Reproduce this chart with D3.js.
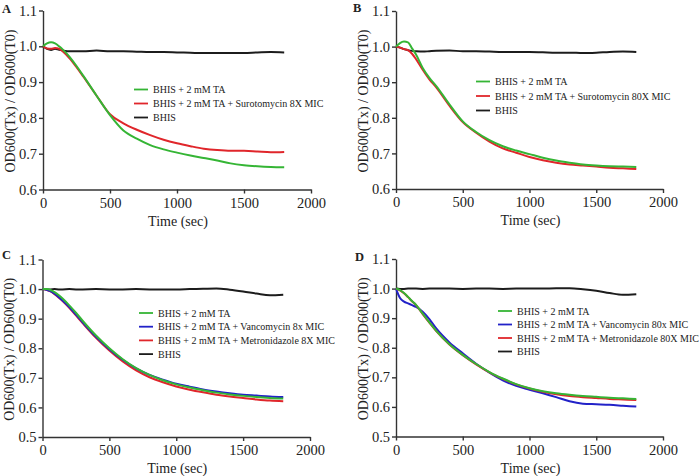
<!DOCTYPE html>
<html>
<head>
<meta charset="utf-8">
<script src="https://cdn.jsdelivr.net/npm/d3@7"></script>
<style>
  html, body { margin: 0; padding: 0; background: #fff; }
  svg { display: block; }
  text { font-family: "Liberation Serif", "Times New Roman", serif; fill: #222; }
</style>
</head>
<body>
<svg id="chart" width="700" height="476"></svg>
<script>
// ---------- data ----------
const times = [0,30,60,90,120,150,200,250,300,400,500,600,700,800,900,1000,1100,1200,1300,1400,1500,1600,1700,1800];

// Panel A
const aGreen = [1.0,1.008,1.011,1.008,1.0,0.99,0.97,0.945,0.918,0.862,0.808,0.765,0.742,0.724,0.712,0.703,0.695,0.688,0.681,0.673,0.668,0.665,0.663,0.662];
const aRed   = [1.0,0.994,0.993,0.995,0.993,0.985,0.966,0.942,0.916,0.862,0.81,0.785,0.767,0.752,0.739,0.729,0.721,0.714,0.71,0.708,0.708,0.706,0.704,0.705];
const aBlack = [1.0,0.993,0.99,0.993,0.99,0.988,0.986,0.986,0.986,0.988,0.986,0.986,0.985,0.984,0.984,0.983,0.982,0.981,0.981,0.981,0.981,0.983,0.984,0.983];

// Panel B
const bGreen = [1.0,1.01,1.014,1.012,0.995,0.978,0.94,0.912,0.89,0.838,0.79,0.76,0.737,0.72,0.708,0.698,0.688,0.68,0.674,0.669,0.666,0.664,0.663,0.662];
const bRed   = [1.0,0.997,0.993,0.99,0.98,0.965,0.935,0.908,0.886,0.834,0.788,0.758,0.733,0.714,0.702,0.69,0.681,0.674,0.669,0.666,0.663,0.66,0.658,0.656];
const bBlack = [1.0,0.997,0.993,0.99,0.988,0.987,0.986,0.987,0.988,0.989,0.987,0.987,0.986,0.985,0.985,0.985,0.984,0.983,0.983,0.982,0.983,0.985,0.986,0.985];

// Panel C
const cGreen = [1.0,1.0,0.997,0.99,0.98,0.968,0.945,0.92,0.893,0.843,0.8,0.763,0.733,0.71,0.692,0.678,0.667,0.658,0.65,0.644,0.639,0.635,0.632,0.63];
const cBlue  = [1.0,0.998,0.993,0.984,0.973,0.961,0.939,0.914,0.888,0.839,0.797,0.761,0.732,0.71,0.694,0.68,0.67,0.661,0.654,0.648,0.643,0.64,0.637,0.635];
const cRed   = [1.0,0.998,0.992,0.983,0.972,0.96,0.937,0.911,0.885,0.835,0.792,0.755,0.725,0.702,0.685,0.671,0.66,0.651,0.643,0.637,0.632,0.627,0.623,0.621];
const cBlack = [1.0,0.999,0.999,1.0,0.999,0.999,1.0,0.999,0.999,1.0,0.999,0.999,1.0,0.999,0.999,0.999,1.0,1.001,1.002,0.998,0.992,0.985,0.979,0.981];

// Panel D
const dGreen = [1.0,0.995,0.985,0.972,0.958,0.945,0.915,0.886,0.858,0.812,0.776,0.745,0.718,0.696,0.677,0.663,0.653,0.646,0.641,0.637,0.634,0.631,0.629,0.627];
const dBlue  = [1.0,0.968,0.956,0.95,0.944,0.938,0.922,0.897,0.866,0.818,0.781,0.746,0.716,0.69,0.671,0.658,0.646,0.633,0.619,0.611,0.609,0.607,0.604,0.601];
const dRed   = [1.0,0.994,0.984,0.971,0.957,0.944,0.914,0.885,0.857,0.811,0.775,0.744,0.717,0.695,0.676,0.662,0.651,0.643,0.637,0.633,0.63,0.627,0.625,0.623];
const dBlack = [1.0,0.999,0.999,1.0,1.0,1.0,0.999,1.0,1.0,1.0,0.999,1.0,1.0,0.999,1.0,1.0,1.0,1.001,1.001,0.998,0.993,0.985,0.979,0.981];

// Ticks
const xTicks = [0, 500, 1000, 1500, 2000];
const yTicksAB = [0.6, 0.7, 0.8, 0.9, 1.0, 1.1];
const yTicksCD = [0.5, 0.6, 0.7, 0.8, 0.9, 1.0, 1.1];

// Labels
const legendA = ["BHIS + 2 mM TA", "BHIS + 2 mM TA + Surotomycin 8X MIC", "BHIS"];
const legendB = ["BHIS + 2 mM TA", "BHIS + 2 mM TA + Surotomycin 80X MIC", "BHIS"];
const legendC = ["BHIS + 2 mM TA", "BHIS + 2 mM TA + Vancomycin 8x MIC", "BHIS + 2 mM TA + Metronidazole 8X MIC", "BHIS"];
const legendD = ["BHIS + 2 mM TA", "BHIS + 2 mM TA + Vancomycin 80x MIC", "BHIS + 2 mM TA + Metronidazole 80X MIC", "BHIS"];
const yTitle = "OD600(Tx) / OD600(T0)";

// ---------- styles ----------
const COL = { green: "#35b535", red: "#e0262b", blue: "#2222c8", black: "#1c1c1c" };

const panels = [
  { tag: "A", x0: 43, x1: 311, yT: 10.5, yB: 189.5, yDom: [0.6, 1.1], yTicks: yTicksAB,
    xTitle: "Time  (sec)", tagPos: [2, 13],
    series: [ {v: aBlack, c: COL.black}, {v: aRed, c: COL.red}, {v: aGreen, c: COL.green} ],
    legend: legendA, legCols: [COL.green, COL.red, COL.black], legX: 134, legY: 89.5, legDy: 14 },
  { tag: "B", x0: 396, x1: 663, yT: 11, yB: 189, yDom: [0.6, 1.1], yTicks: yTicksAB,
    xTitle: "Time (sec)", tagPos: [353, 12],
    series: [ {v: bBlack, c: COL.black}, {v: bRed, c: COL.red}, {v: bGreen, c: COL.green} ],
    legend: legendB, legCols: [COL.green, COL.red, COL.black], legX: 476, legY: 81.5, legDy: 14.5 },
  { tag: "C", x0: 42.5, x1: 310, yT: 259.5, yB: 437, yDom: [0.5, 1.1], yTicks: yTicksCD,
    xTitle: "Time (sec)", tagPos: [2, 259],
    series: [ {v: cBlack, c: COL.black}, {v: cRed, c: COL.red}, {v: cBlue, c: COL.blue}, {v: cGreen, c: COL.green} ],
    legend: legendC, legCols: [COL.green, COL.blue, COL.red, COL.black], legX: 139, legY: 313, legDy: 13.7 },
  { tag: "D", x0: 396, x1: 663, yT: 259, yB: 436.5, yDom: [0.5, 1.1], yTicks: yTicksCD,
    xTitle: "Time (sec)", tagPos: [355, 261],
    series: [ {v: dBlack, c: COL.black}, {v: dBlue, c: COL.blue}, {v: dRed, c: COL.red}, {v: dGreen, c: COL.green} ],
    legend: legendD, legCols: [COL.green, COL.blue, COL.red, COL.black], legX: 498, legY: 311, legDy: 13.5 }
];

const svg = d3.select("#chart");

panels.forEach(p => {
  const g = svg.append("g");
  const x = d3.scaleLinear().domain([0, 2000]).range([p.x0, p.x1]);
  const y = d3.scaleLinear().domain(p.yDom).range([p.yB, p.yT]);

  // axes
  const xAxis = d3.axisBottom(x).tickValues(xTicks).tickSize(4).tickSizeOuter(0).tickPadding(4).tickFormat(d3.format("d"));
  const yAxis = d3.axisLeft(y).tickValues(p.yTicks).tickSize(4).tickSizeOuter(0).tickPadding(2).tickFormat(d3.format(".1f"));

  const gx = g.append("g").attr("transform", `translate(0,${p.yB})`).call(xAxis);
  const gy = g.append("g").attr("transform", `translate(${p.x0},0)`).call(yAxis);
  [gx, gy].forEach(a => {
    a.attr("font-family", null);
    a.select(".domain").attr("stroke", "#333").attr("stroke-width", 1.4);
    a.selectAll(".tick line").attr("stroke", "#333").attr("stroke-width", 1.4);
    a.selectAll(".tick text").style("font-family", '"Liberation Serif", "Times New Roman", serif').style("font-size", "14.5px").attr("fill", "#222");
  });

  // lines
  const line = d3.line().x((d, i) => x(times[i])).y(d => y(d)).curve(d3.curveMonotoneX);
  p.series.forEach(s => {
    g.append("path").attr("d", line(s.v)).attr("fill", "none").attr("stroke", s.c).attr("stroke-width", 2);
  });

  // legend
  p.legend.forEach((lab, i) => {
    const yy = p.legY + i * p.legDy;
    g.append("line").attr("x1", p.legX).attr("x2", p.legX + 14).attr("y1", yy).attr("y2", yy)
      .attr("stroke", p.legCols[i]).attr("stroke-width", 1.8);
    g.append("text").attr("x", p.legX + 19).attr("y", yy).attr("dy", "0.35em")
      .style("font-size", "10px").text(lab);
  });

  // titles
  g.append("text").attr("x", (p.x0 + p.x1) / 2 + 1).attr("y", p.yB + 36)
    .attr("text-anchor", "middle").style("font-size", "14px").text(p.xTitle);
  const cy = (p.yT + p.yB) / 2 + 1;
  g.append("text").attr("transform", `translate(${p.x0 - 33},${cy}) rotate(-90)`)
    .attr("text-anchor", "middle").attr("dy", "0.35em").style("font-size", "14px").text(yTitle);
  g.append("text").attr("x", p.tagPos[0]).attr("y", p.tagPos[1])
    .style("font-size", "12.5px").style("font-weight", "bold").text(p.tag);
});
</script>
</body>
</html>
